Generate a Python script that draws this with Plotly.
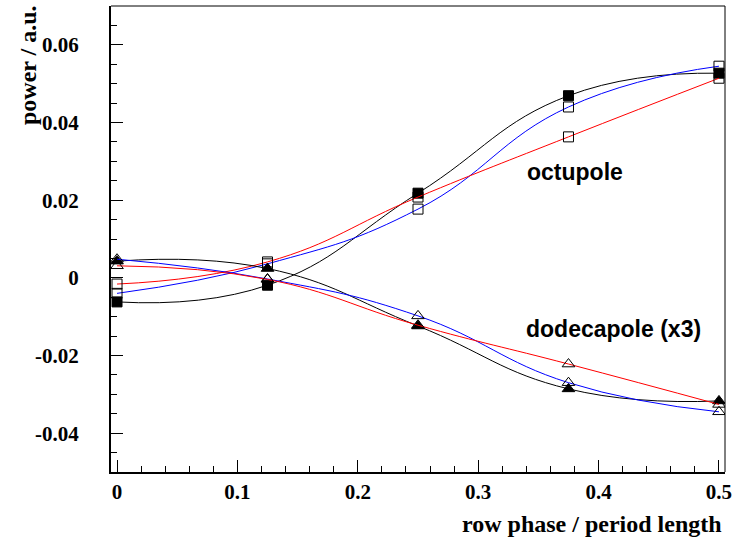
import plotly.graph_objects as go

# row phase in units of the period length
phase = [0.0, 0.125, 0.25, 0.375, 0.5]

# octupole power (a.u.)
oct_black = [-0.0062, -0.0019, 0.0218, 0.0469, 0.0527]
oct_blue = [-0.0040, 0.0036, 0.0177, 0.0440, 0.0545]
oct_red = [-0.0016, 0.0041, 0.0208, 0.0363, 0.0514]

# dodecapole power, scaled by 3 (a.u.)
dod_black = [0.0043, 0.0024, -0.0124, -0.0286, -0.0317]
dod_blue = [0.0048, -0.0003, -0.0098, -0.0270, -0.0345]
dod_red = [0.0031, -0.0004, -0.0122, -0.0222, -0.0326]

x_ticks = [0, 0.1, 0.2, 0.3, 0.4, 0.5]
x_labels = ["0", "0.1", "0.2", "0.3", "0.4", "0.5"]
y_ticks = [-0.04, -0.02, 0, 0.02, 0.04, 0.06]
y_labels = ["-0.04", "-0.02", "0", "0.02", "0.04", "0.06"]

W, H = 741, 539
L, R, T, B = 111, 16, 6, 67

serif = "Liberation Serif"
sans = "Liberation Sans"

fig = go.Figure()

series = [
    (oct_black, "#000000", "square", 10),
    (oct_blue, "#0000ff", "square-open", 10),
    (oct_red, "#ff0000", "square-open", 10),
    (dod_black, "#000000", "triangle-up", 11),
    (dod_blue, "#0000ff", "triangle-up-open", 11),
    (dod_red, "#ff0000", "triangle-up-open", 11),
]
for vals, col, sym, sz in series:
    fig.add_trace(go.Scatter(
        x=phase, y=vals, mode="lines+markers",
        line=dict(color=col, width=1, shape="spline", smoothing=1.3),
        marker=dict(symbol=sym, size=sz, color="#000000",
                    line=dict(color="#000000", width=1)),
        showlegend=False, hoverinfo="skip",
    ))

fig.add_annotation(x=0.3804, y=0.0272, xref="x", yref="y", text="octupole",
                   showarrow=False, xanchor="center", yanchor="middle",
                   font=dict(family=sans, size=23, color="black", weight="bold"))
fig.add_annotation(x=0.4125, y=-0.0131, xref="x", yref="y", text="dodecapole (x3)",
                   showarrow=False, xanchor="center", yanchor="middle",
                   font=dict(family=sans, size=23, color="black", weight="bold"))

# axis titles
pw = W - L - R
ph = H - T - B
fig.add_annotation(x=(724 - L) / pw, y=(H - B - 524) / ph, xref="paper", yref="paper",
                   text="row phase / period length", showarrow=False,
                   xanchor="right", yanchor="middle",
                   font=dict(family=serif, size=24, color="black", weight="bold"))
fig.add_annotation(x=(28 - L) / pw, y=(H - B - 3) / ph, xref="paper", yref="paper",
                   text="power / a.u.", showarrow=False, textangle=-90,
                   xanchor="center", yanchor="top",
                   font=dict(family=serif, size=24, color="black", weight="bold"))

# frame top and right edges
fig.add_shape(type="line", xref="paper", yref="paper", x0=0, x1=1, y0=1, y1=1,
              line=dict(color="black", width=1))
fig.add_shape(type="line", xref="paper", yref="paper", x0=1, x1=1, y0=0, y1=1,
              line=dict(color="black", width=1))

fig.update_layout(
    width=W, height=H,
    margin=dict(l=L, r=R, t=T, b=B, pad=0),
    paper_bgcolor="white", plot_bgcolor="white",
    xaxis=dict(
        range=[-0.005, 0.505], showgrid=False, zeroline=False,
        showline=True, linecolor="black", linewidth=2,
        tickmode="array", tickvals=x_ticks, ticktext=x_labels,
        ticks="inside", ticklen=12, tickwidth=1, tickcolor="black",
        minor=dict(ticks="inside", ticklen=6, dtick=0.02, tick0=0,
                   tickcolor="black", tickwidth=1, showgrid=False),
        tickfont=dict(family=serif, size=21, color="black", weight="bold"),
    ),
    yaxis=dict(
        range=[-0.05, 0.07], showgrid=False, zeroline=False,
        showline=True, linecolor="black", linewidth=2,
        tickmode="array", tickvals=y_ticks, ticktext=y_labels,
        ticks="inside", ticklen=12, tickwidth=1, tickcolor="black",
        minor=dict(ticks="inside", ticklen=6, dtick=0.005, tick0=0,
                   tickcolor="black", tickwidth=1, showgrid=False),
        tickfont=dict(family=serif, size=21, color="black", weight="bold"),
        ticklabelstandoff=26,
    ),
)

fig.write_html("out.html")
